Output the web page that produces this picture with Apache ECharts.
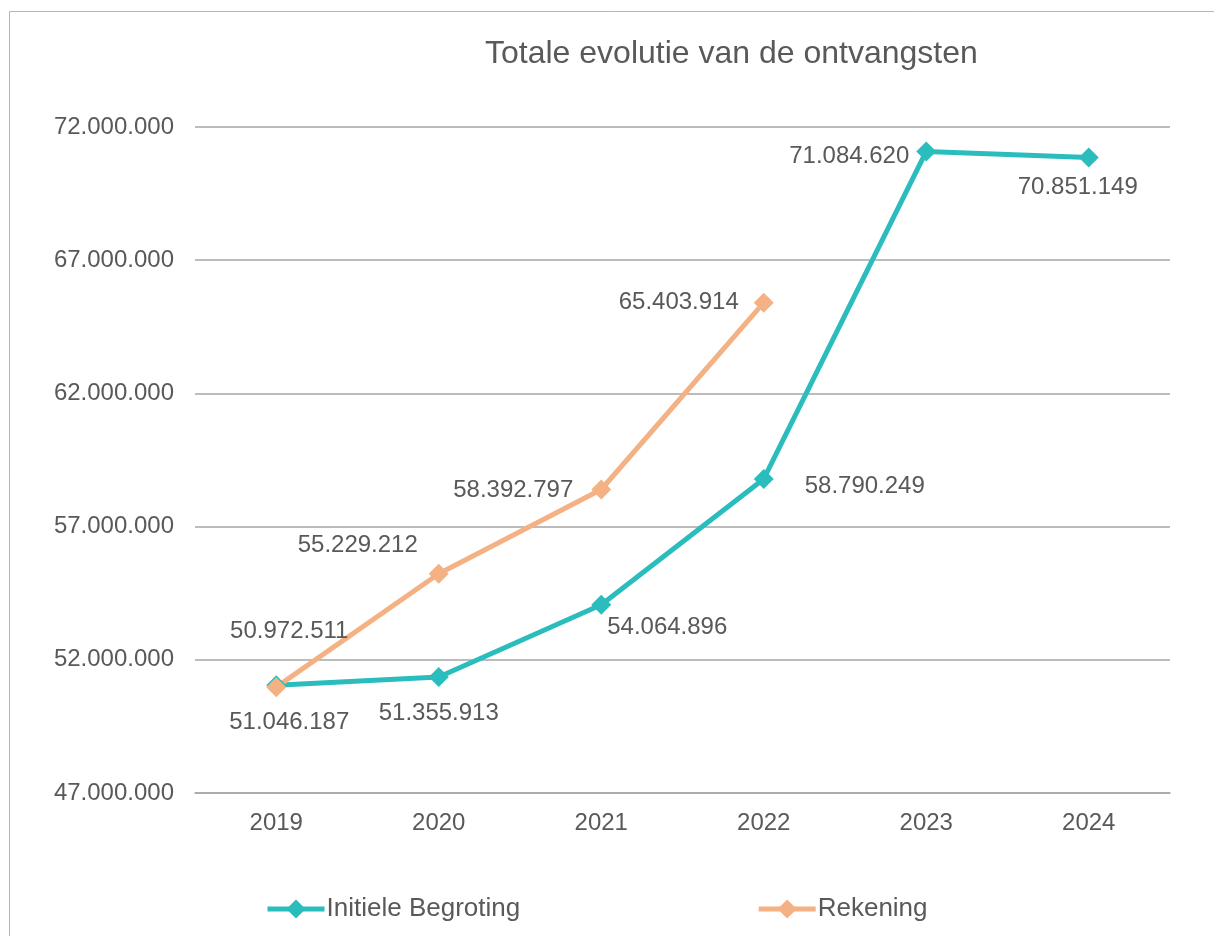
<!DOCTYPE html>
<html>
<head>
<meta charset="utf-8">
<script src="https://cdn.jsdelivr.net/npm/echarts@6/dist/echarts.min.js"></script>
<style>
  html, body { margin: 0; padding: 0; background: #fff; }
  #chart { width: 1214px; height: 936px; }
</style>
</head>
<body>
<div id="chart"></div>
<script>
// categorieën en waarden
const years = ['2019', '2020', '2021', '2022', '2023', '2024'];
const initieleBegroting = [51046187, 51355913, 54064896, 58790249, 71084620, 70851149];
const rekening = [50972511, 55229212, 58392797, 65403914];

// label-verschuivingen (pixels) per punt
const initieleOffsets = [[13, 37], [0, 36], [66, 23], [101, 7], [-77, 5], [-11, 30]];
const rekeningOffsets = [[13, -56], [-81, -28], [-88, 1], [-85, 0]];

const fmt = v => String(Math.round(v)).replace(/\B(?=(\d{3})+(?!\d))/g, '.');
const textColor = '#595959';
const font = '"Liberation Sans", Arial, sans-serif';

function withLabels(values, offsets) {
  return values.map((v, i) => ({
    value: v,
    label: { offset: offsets[i] }
  }));
}

const chart = echarts.init(document.getElementById('chart'));
chart.setOption({
  backgroundColor: '#fff',
  textStyle: { fontFamily: font },
  animation: false,
  title: {
    text: 'Totale evolutie van de ontvangsten',
    left: 480,
    top: 33,
    textStyle: { color: textColor, fontSize: 32, fontWeight: 'normal', fontFamily: font }
  },
  graphic: [{
    type: 'rect',
    shape: { x: 9.5, y: 11.5, width: 1400, height: 1200 },
    style: { fill: 'none', stroke: '#b5b5b5', lineWidth: 1 },
    silent: true
  }],
  legend: {
    top: 891,
    left: 260,
    itemGap: 236,
    itemWidth: 57,
    itemHeight: 24,
    lineStyle: { width: 5 },
    textStyle: { color: textColor, fontSize: 26, fontFamily: font, padding: [0, 0, 0, -3] },
    data: ['Initiele Begroting', 'Rekening']
  },
  grid: { left: 195, right: 44, top: 127, bottom: 143, containLabel: false },
  xAxis: {
    type: 'category',
    data: years,
    boundaryGap: true,
    axisLine: { lineStyle: { color: '#a6a6a6', width: 1.5 } },
    axisTick: { show: false },
    axisLabel: { color: textColor, fontSize: 24, margin: 18 }
  },
  yAxis: {
    type: 'value',
    min: 47000000,
    max: 72000000,
    interval: 5000000,
    axisLine: { show: false },
    axisTick: { show: false },
    axisLabel: { color: textColor, fontSize: 24, margin: 21, formatter: fmt },
    splitLine: { lineStyle: { color: '#a6a6a6', width: 1.5 } }
  },
  series: [
    {
      name: 'Initiele Begroting',
      type: 'line',
      data: withLabels(initieleBegroting, initieleOffsets),
      color: '#2BBDBD',
      lineStyle: { width: 5 },
      symbol: 'diamond',
      symbolSize: 20,
      label: {
        show: true,
        position: 'inside',
        color: textColor,
        fontSize: 24,
        formatter: p => fmt(p.value)
      }
    },
    {
      name: 'Rekening',
      type: 'line',
      data: withLabels(rekening, rekeningOffsets),
      color: '#F4B183',
      lineStyle: { width: 5 },
      symbol: 'diamond',
      symbolSize: 20,
      label: {
        show: true,
        position: 'inside',
        color: textColor,
        fontSize: 24,
        formatter: p => fmt(p.value)
      }
    }
  ]
});
</script>
</body>
</html>
